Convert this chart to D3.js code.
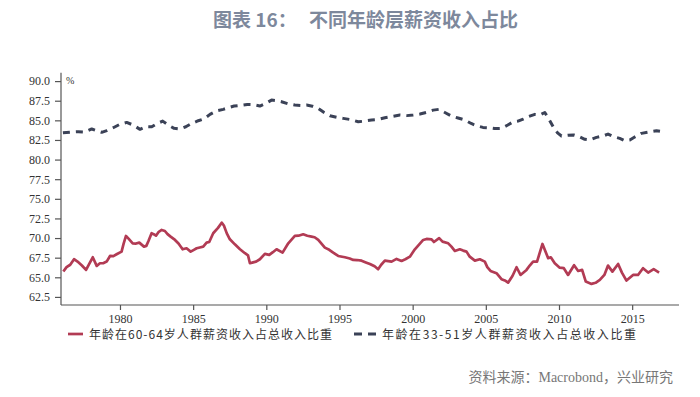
<!DOCTYPE html>
<html><head><meta charset="utf-8">
<script src="https://cdn.jsdelivr.net/npm/d3@7"></script>
<style>html,body{margin:0;padding:0;background:#fff;}svg{display:block;}</style>
</head><body>
<svg id="chart" width="700" height="397"></svg>
<script>
const titleLead = "图表 16：";
const titleMain = "不同年龄层薪资收入占比";
const sourceText = "资料来源：Macrobond，兴业研究";
const unitLabel = "%";
const seriesNames = ["年龄在60-64岁人群薪资收入占总收入比重", "年龄在33-51岁人群薪资收入占总收入比重"];
const xTicks = [1980, 1985, 1990, 1995, 2000, 2005, 2010, 2015];
const yTicks = [62.5, 65.0, 67.5, 70.0, 72.5, 75.0, 77.5, 80.0, 82.5, 85.0, 87.5, 90.0];

const redYears = [1976.13,1976.35,1976.6,1976.86,1977.1,1977.4,1977.68,1977.9,1978.14,1978.41,1978.63,1978.85,1979.09,1979.32,1979.55,1979.77,1980.11,1980.25,1980.41,1980.6,1980.87,1981.1,1981.32,1981.64,1981.8,1981.94,1982.16,1982.3,1982.46,1982.65,1982.85,1983.07,1983.25,1983.46,1983.76,1984.0,1984.28,1984.55,1984.83,1985.05,1985.24,1985.45,1985.69,1985.92,1986.1,1986.37,1986.7,1986.95,1987.1,1987.3,1987.51,1987.85,1988.2,1988.54,1988.75,1988.88,1989.1,1989.3,1989.56,1989.9,1990.2,1990.45,1990.7,1991.11,1991.5,1991.95,1992.2,1992.52,1992.8,1993.09,1993.3,1993.55,1994.0,1994.3,1994.57,1994.91,1995.37,1995.7,1995.94,1996.2,1996.51,1996.8,1997.08,1997.4,1997.64,1997.85,1998.1,1998.56,1998.9,1999.24,1999.5,1999.81,2000.15,2000.45,2000.72,2000.95,2001.29,2001.45,2001.81,2002.04,2002.43,2002.65,2002.88,2003.22,2003.45,2003.68,2003.9,2004.25,2004.59,2004.93,2005.1,2005.32,2005.73,2006.07,2006.3,2006.52,2006.82,2007.1,2007.37,2007.78,2008.0,2008.23,2008.5,2008.87,2009.26,2009.44,2009.71,2010.05,2010.33,2010.62,2011.03,2011.31,2011.58,2011.83,2012.22,2012.5,2012.79,2013.1,2013.35,2013.65,2014.04,2014.3,2014.61,2015.06,2015.4,2015.74,2016.09,2016.47,2016.84];
const redValues = [65.73,66.3,66.6,67.3,67.0,66.5,65.94,66.7,67.55,66.45,66.79,66.8,67.0,67.72,67.7,67.93,68.27,69.3,70.27,69.9,69.33,69.3,69.42,68.91,69.0,69.6,70.61,70.5,70.3,70.8,71.03,70.9,70.5,70.18,69.76,69.3,68.57,68.7,68.27,68.5,68.7,68.8,68.9,69.42,69.5,70.61,71.3,71.96,71.6,70.6,69.84,69.2,68.57,68.07,67.8,66.79,66.9,67.0,67.3,67.98,67.85,68.2,68.57,68.14,69.33,70.27,70.3,70.48,70.3,70.18,70.1,69.76,68.78,68.5,68.14,67.72,67.55,67.4,67.21,67.2,67.12,66.9,66.7,66.4,66.03,66.6,67.12,67.0,67.34,67.09,67.3,67.63,68.57,69.2,69.76,69.89,69.84,69.5,70.0,69.55,69.33,68.9,68.36,68.57,68.4,68.27,67.63,67.12,67.3,67.0,66.3,65.81,65.52,64.76,64.6,64.32,65.17,66.28,65.3,65.94,66.5,67.0,67.0,69.25,67.43,67.55,66.79,66.23,66.16,65.3,66.54,65.81,65.94,64.45,64.16,64.3,64.66,65.3,66.49,65.72,66.7,65.6,64.58,65.3,65.3,66.16,65.6,66.03,65.6];

const blueYears = [1976.1,1976.6,1977.15,1977.6,1978.07,1978.75,1979.1,1979.54,1980.0,1980.46,1980.9,1981.37,1981.8,1982.17,1982.55,1982.92,1983.3,1983.7,1984.1,1984.5,1984.9,1985.35,1985.75,1986.15,1986.6,1987.06,1987.4,1987.8,1988.2,1988.7,1989.1,1989.56,1990.0,1990.36,1990.7,1991.04,1991.5,1991.95,1992.35,1992.75,1993.15,1993.55,1993.95,1994.34,1994.8,1995.25,1995.75,1996.28,1996.7,1997.19,1997.6,1998.1,1998.6,1999.13,1999.6,2000.04,2000.5,2000.95,2001.4,2001.79,2002.2,2002.66,2003.1,2003.57,2004.0,2004.37,2004.8,2005.16,2005.6,2006.07,2006.5,2006.87,2007.2,2007.55,2007.95,2008.35,2008.7,2009.03,2009.3,2009.6,2009.9,2010.17,2010.6,2011.0,2011.4,2011.76,2012.1,2012.56,2013.0,2013.35,2013.75,2014.15,2014.5,2014.84,2015.2,2015.63,2016.1,2016.66,2016.9];
const blueValues = [83.42,83.5,83.55,83.5,83.9,83.47,83.7,84.06,84.5,84.74,84.4,83.85,84.2,84.18,84.6,84.9,84.4,83.98,83.9,84.18,84.6,84.95,85.2,85.76,86.2,86.4,86.6,86.82,86.9,87.03,87.0,86.82,87.2,87.58,87.5,87.37,87.1,86.95,86.9,86.95,86.8,86.52,86.0,85.58,85.4,85.25,85.1,84.82,84.9,85.04,85.1,85.33,85.5,85.67,85.6,85.67,85.8,86.02,86.3,86.4,86.0,85.54,85.3,85.04,84.6,84.31,84.1,84.06,83.95,83.98,84.4,84.82,84.9,85.16,85.5,85.76,85.7,86.0,85.2,84.18,83.4,83.0,83.1,83.13,82.9,82.58,82.5,82.83,83.0,83.25,82.9,82.7,82.4,82.49,82.9,83.34,83.5,83.67,83.6];

const svg = d3.select("#chart");
const x = d3.scaleLinear().domain([1975.97, 2018.2]).range([61, 679]);
const y = d3.scaleLinear().domain([61.47, 91.07]).range([305, 72.7]);

const axisColor = "#555";
const textColor = "#333";
const serif = "'Liberation Serif', 'Times New Roman', serif";
const cjk = "'Noto Sans CJK SC', sans-serif";

// title
svg.append("text").attr("x", 213).attr("y", 27)
  .attr("font-family", cjk).attr("font-size", 19).attr("font-weight", 700)
  .attr("fill", "#7d889c").text(titleLead);
svg.append("text").attr("x", 309).attr("y", 27)
  .attr("font-family", cjk).attr("font-size", 19).attr("font-weight", 700)
  .attr("fill", "#7d889c").text(titleMain);

// axes
const yAxis = d3.axisLeft(y).tickValues(yTicks).tickFormat(d3.format(".1f")).tickSize(6).tickPadding(5);
const gy = svg.append("g").attr("transform", "translate(61,0)").call(yAxis);
const xAxis = d3.axisBottom(x).tickValues(xTicks).tickFormat(d3.format("d")).tickSize(5).tickPadding(4);
const gx = svg.append("g").attr("transform", "translate(0,305)").call(xAxis);
[gx, gy].forEach(g => {
  g.select(".domain").attr("stroke", axisColor).attr("stroke-width", 1.2);
  g.selectAll(".tick line").attr("stroke", axisColor).attr("stroke-width", 1.2);
  g.selectAll(".tick text").attr("fill", textColor).attr("font-family", serif).attr("font-size", 12);
});
gy.select(".domain").attr("d", "M0,305V72.7");
gx.select(".domain").attr("d", "M61,0H679");

svg.append("text").attr("x", 66).attr("y", 84).attr("font-family", serif)
  .attr("font-size", 10).attr("fill", textColor).text(unitLabel);

// lines
const red = redYears.map((d, i) => [d, redValues[i]]);
const blue = blueYears.map((d, i) => [d, blueValues[i]]);
const line = d3.line().x(d => x(d[0])).y(d => y(d[1]));

svg.append("path").datum(blue).attr("d", line).attr("fill", "none")
  .attr("stroke", "#3b4257").attr("stroke-width", 3).attr("stroke-dasharray", "7,6")
  .attr("stroke-linejoin", "round");
svg.append("path").datum(red).attr("d", line).attr("fill", "none")
  .attr("stroke", "#b23b54").attr("stroke-width", 2.7).attr("stroke-linejoin", "round");

// legend
const ly = 334;
svg.append("line").attr("x1", 68).attr("x2", 83).attr("y1", ly).attr("y2", ly)
  .attr("stroke", "#b23b54").attr("stroke-width", 2.7);
svg.append("text").attr("x", 89).attr("y", ly + 4.5).attr("font-family", cjk)
  .attr("font-size", 12).attr("fill", textColor)
  .attr("textLength", 243).attr("lengthAdjust", "spacing").text(seriesNames[0]);
svg.append("line").attr("x1", 354).attr("x2", 378).attr("y1", ly).attr("y2", ly)
  .attr("stroke", "#3b4257").attr("stroke-width", 3).attr("stroke-dasharray", "8,6");
svg.append("text").attr("x", 382).attr("y", ly + 4.5).attr("font-family", cjk)
  .attr("font-size", 12).attr("fill", textColor)
  .attr("textLength", 254).attr("lengthAdjust", "spacing").text(seriesNames[1]);

// source
svg.append("text").attr("x", 673).attr("y", 382).attr("text-anchor", "end")
  .attr("font-family", serif + ", 'Noto Sans CJK SC'").attr("font-size", 14)
  .attr("fill", "#777").text(sourceText);
</script>
</body></html>
